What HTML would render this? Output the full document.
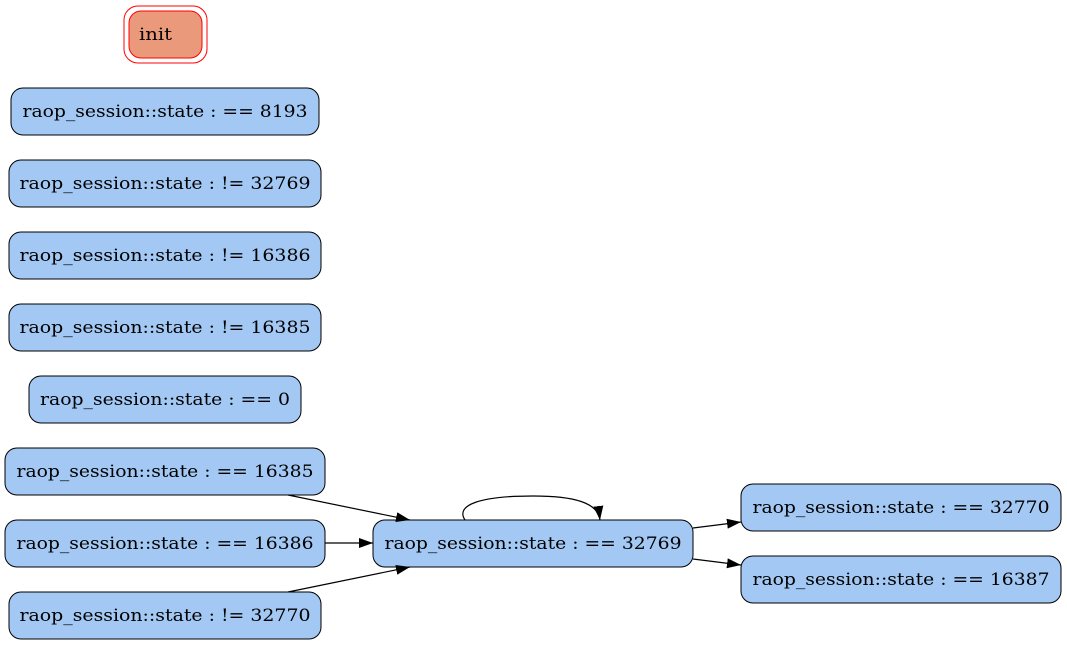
<!DOCTYPE html>
<html><head><meta charset="utf-8"><style>body{margin:0;background:#fff}</style></head><body>
<svg width="1067" height="645" xmlns="http://www.w3.org/2000/svg" font-family="DejaVu Serif, Liberation Serif, serif" font-size="17">
<defs><marker id="a" markerWidth="14" markerHeight="10" refX="14" refY="5" orient="auto" markerUnits="userSpaceOnUse"><path d="M0,0L14,5L0,10z" fill="#000"/></marker></defs>
<rect x="124" y="6" width="83" height="57" rx="14" fill="none" stroke="#f00"/>
<rect x="129" y="11" width="73" height="47" rx="12" fill="#eb997b" stroke="#f00"/>
<text x="139" y="40" textLength="33" lengthAdjust="spacingAndGlyphs">init</text>
<g fill="#a3c8f3" stroke="#000">
<rect x="11" y="88" width="308" height="47" rx="12"/>
<rect x="9" y="160" width="312" height="47" rx="12"/>
<rect x="9" y="232" width="312" height="47" rx="12"/>
<rect x="9" y="304" width="312" height="47" rx="12"/>
<rect x="29" y="376" width="272" height="47" rx="12"/>
<rect x="5" y="448" width="320" height="47" rx="12"/>
<rect x="5" y="520" width="320" height="47" rx="12"/>
<rect x="9" y="592" width="312" height="47" rx="12"/>
<rect x="373" y="520" width="320" height="47" rx="12"/>
<rect x="741" y="484" width="320" height="47" rx="12"/>
<rect x="741" y="556" width="320" height="47" rx="12"/>
</g>
<g text-anchor="middle">
<text x="165" y="117" textLength="285" lengthAdjust="spacingAndGlyphs">raop_session::state : == 8193</text>
<text x="165" y="189" textLength="291" lengthAdjust="spacingAndGlyphs">raop_session::state : != 32769</text>
<text x="165" y="261" textLength="291" lengthAdjust="spacingAndGlyphs">raop_session::state : != 16386</text>
<text x="165" y="333" textLength="291" lengthAdjust="spacingAndGlyphs">raop_session::state : != 16385</text>
<text x="165" y="405" textLength="250" lengthAdjust="spacingAndGlyphs">raop_session::state : == 0</text>
<text x="165" y="477" textLength="297" lengthAdjust="spacingAndGlyphs">raop_session::state : == 16385</text>
<text x="165" y="549" textLength="297" lengthAdjust="spacingAndGlyphs">raop_session::state : == 16386</text>
<text x="165" y="621" textLength="291" lengthAdjust="spacingAndGlyphs">raop_session::state : != 32770</text>
<text x="533" y="549" textLength="297" lengthAdjust="spacingAndGlyphs">raop_session::state : == 32769</text>
<text x="901" y="513" textLength="297" lengthAdjust="spacingAndGlyphs">raop_session::state : == 32770</text>
<text x="901" y="585" textLength="297" lengthAdjust="spacingAndGlyphs">raop_session::state : == 16387</text>
</g>
<g stroke="#000" fill="none" stroke-width="1.2" marker-end="url(#a)">
<path d="M288,495L410,520"/>
<path d="M325,543L373,543"/>
<path d="M288,592L410,567"/>
<path d="M465,520C455,505 480,496 533,496C575,496 598,503 600,520"/>
<path d="M693,528L741,522"/>
<path d="M693,559L741,565"/>
</g>
</svg>
</body></html>
